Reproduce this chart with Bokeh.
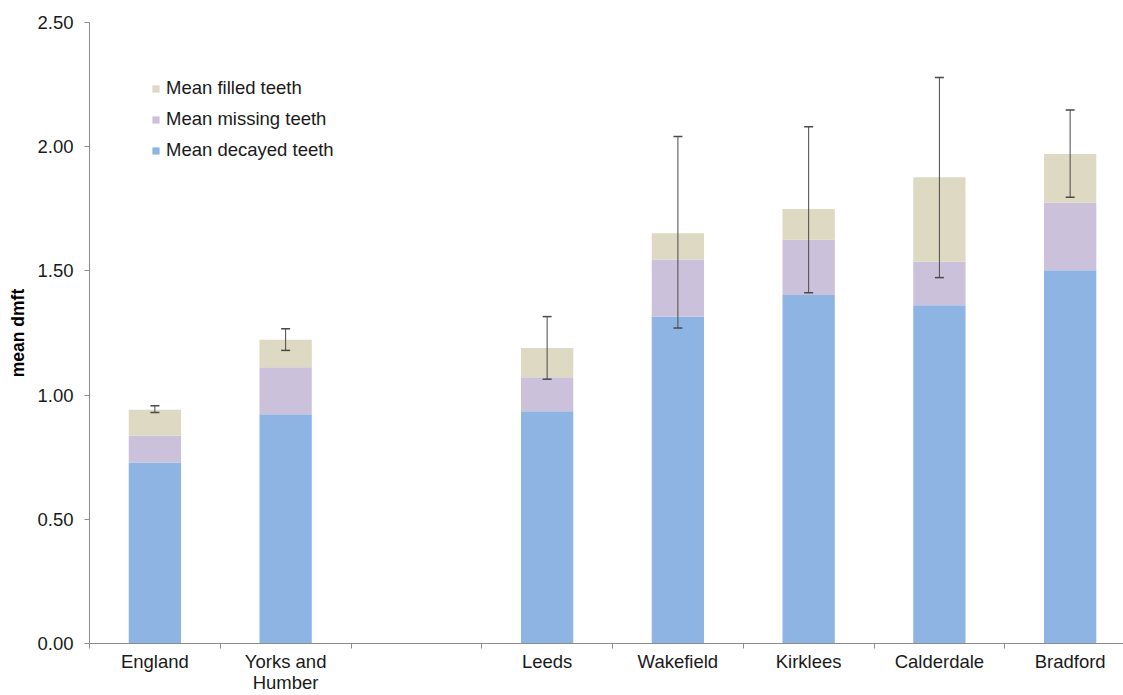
from bokeh.plotting import figure
from bokeh.models import (ColumnDataSource, FixedTicker, NumeralTickFormatter, Range1d,
                          Whisker, TeeHead, Legend, LegendItem)
from bokeh.embed import file_html
from bokeh.resources import INLINE

# ---- data ----
slots = ["England", "Yorks and\nHumber", "", "Leeds", "Wakefield", "Kirklees", "Calderdale", "Bradford"]
decayed = [0.729, 0.923, 0.935, 1.316, 1.403, 1.362, 1.503]
missing = [0.107, 0.189, 0.137, 0.230, 0.222, 0.175, 0.271]
filled = [0.105, 0.111, 0.118, 0.106, 0.124, 0.340, 0.197]
err_low = [0.930, 1.180, 1.064, 1.270, 1.412, 1.473, 1.796]
err_high = [0.957, 1.267, 1.316, 2.041, 2.080, 2.279, 2.148]
y_ticks = [0.0, 0.5, 1.0, 1.5, 2.0, 2.5]

FONT = "Liberation Sans"
C_DEC = "#8EB4E3"
C_MIS = "#CCC1DA"
C_FIL = "#DDD9C3"

xs = [i for i, s in enumerate(slots) if s]
names = [s for s in slots if s]
d_top = decayed
m_top = [a + b for a, b in zip(decayed, missing)]
f_top = [a + b for a, b in zip(m_top, filled)]

src = ColumnDataSource(dict(x=xs, name=names, zero=[0] * len(xs), d=d_top, m=m_top, f=f_top,
                            lo=err_low, hi=err_high))

p = figure(width=1123, height=695, output_backend="svg", toolbar_location=None,
           x_range=Range1d(-0.5, 7.408), y_range=Range1d(0, 2.5),
           min_border_left=89, min_border_right=0, min_border_top=22, min_border_bottom=52)
p.outline_line_color = None
p.background_fill_color = "white"

r_dec = p.vbar(x="x", bottom="zero", top="d", width=0.4, source=src, fill_color=C_DEC, line_color=None)
r_mis = p.vbar(x="x", bottom="d", top="m", width=0.4, source=src, fill_color=C_MIS, line_color=None)
r_fil = p.vbar(x="x", bottom="m", top="f", width=0.4, source=src, fill_color=C_FIL, line_color=None)

wh = Whisker(base="x", lower="lo", upper="hi", source=src, level="overlay",
             line_color="#4a4a4a", line_width=1,
             upper_head=TeeHead(size=9, line_color="#4a4a4a", line_width=1.5),
             lower_head=TeeHead(size=9, line_color="#4a4a4a", line_width=1.5))
p.add_layout(wh)

# grid only at top
p.xgrid.visible = False
p.ygrid.ticker = FixedTicker(ticks=[2.5])
p.ygrid.grid_line_color = "#C8C8C8"
p.ygrid.grid_line_width = 1.5

# y axis
ya = p.yaxis[0]
ya.ticker = FixedTicker(ticks=y_ticks, minor_ticks=[])
ya.formatter = NumeralTickFormatter(format="0.00")
ya.axis_line_color = "#8C8C8C"
ya.major_tick_line_color = "#8C8C8C"
ya.major_tick_out = 5
ya.major_tick_in = 0
ya.minor_tick_line_color = None
ya.major_label_standoff = 11
ya.major_label_text_font = FONT
ya.major_label_text_font_size = "18.5px"
ya.major_label_text_color = "#1a1a1a"
ya.axis_label = "mean dmft"
ya.axis_label_text_font = FONT
ya.axis_label_text_font_style = "bold"
ya.axis_label_text_font_size = "17.5px"
ya.axis_label_text_color = "#000000"
ya.axis_label_standoff = 6

# x axis: labels at slot centres, tick marks at slot boundaries
xa = p.xaxis[0]
xa.ticker = FixedTicker(ticks=xs, minor_ticks=[i - 0.5 for i in range(len(slots) + 1)])
xa.major_label_overrides = {x: n for x, n in zip(xs, names)}
xa.axis_line_color = "#8C8C8C"
xa.minor_tick_line_color = "#8C8C8C"
xa.minor_tick_out = 5
xa.minor_tick_in = 0
xa.major_tick_line_color = None
xa.major_tick_out = 0
xa.major_tick_in = 0
xa.major_label_standoff = 2
xa.major_label_text_font = FONT
xa.major_label_text_font_size = "18.5px"
xa.major_label_text_color = "#1a1a1a"
xa.major_label_text_line_height = 1.0

legend = Legend(items=[LegendItem(label="Mean filled teeth", renderers=[r_fil]),
                       LegendItem(label="Mean missing teeth", renderers=[r_mis]),
                       LegendItem(label="Mean decayed teeth", renderers=[r_dec])],
                location=(62, 482), glyph_width=9, glyph_height=9, label_standoff=6,
                label_height=20, spacing=9, padding=0, margin=0,
                label_text_font=FONT, label_text_font_size="18.5px", label_text_color="#1a1a1a",
                border_line_color=None, background_fill_alpha=0)
p.add_layout(legend)

open("out.html", "w").write(file_html(p, INLINE))
